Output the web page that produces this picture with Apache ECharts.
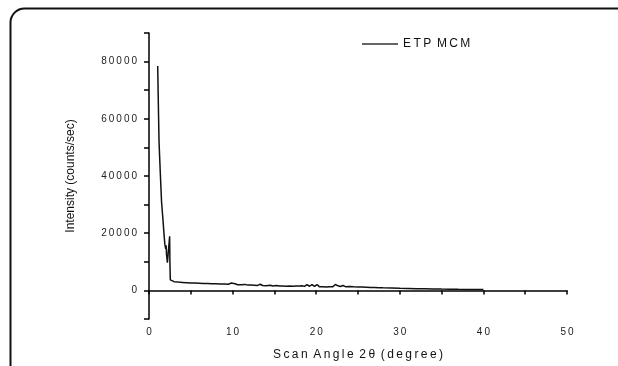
<!DOCTYPE html>
<html>
<head>
<meta charset="utf-8">
<script src="https://cdn.jsdelivr.net/npm/echarts@6/dist/echarts.min.js"></script>
<style>html,body{margin:0;padding:0;background:#fff}#c{width:618px;height:366px}</style>
</head>
<body>
<div id="c"></div>
<script>
const seriesName = 'ETP MCM';
const xTitle = 'Scan Angle 2θ (degree)';
const yTitle = 'Intensity (counts/sec)';
const angle = [1.04,1.10,1.20,1.36,1.50,1.67,1.80,1.90,1.96,2.00,2.05,2.10,2.20,2.35,2.42,2.47,2.50,2.55,2.70,3.0,3.5,4.0,4.5,5.0,5.5,6.0,6.5,7.0,7.5,8.0,8.5,9.0,9.5,9.8,10.0,10.3,10.6,11.0,11.5,11.8,12.2,12.6,13.0,13.3,13.6,14.0,14.5,14.8,15.2,15.6,16.0,16.4,16.8,17.2,17.4,17.6,17.8,18.0,18.3,18.6,18.9,19.2,19.5,19.8,20.1,20.4,20.8,21.2,21.6,22.0,22.3,22.6,22.9,23.2,23.5,24.0,24.5,25.0,25.5,26.0,26.5,27.0,27.5,28.0,29.0,30.0,31.0,32.0,33.0,34.0,35.0,36.0,37.0,38.0,39.0,40.0];
const intensity = [78500,68000,52000,40500,31000,24700,19500,16000,15500,14500,15800,12500,9700,9500,10000,18900,10000,3700,3300,3050,2900,2800,2700,2600,2550,2500,2450,2400,2350,2300,2250,2200,2150,2550,2150,2300,2000,1950,2100,1850,1850,1800,1750,2150,1700,1650,1800,1550,1700,1500,1550,1450,1500,1450,2100,1500,2050,1550,1650,1400,2000,1450,2050,1400,2050,1250,1300,1200,1250,1300,2050,1600,1350,1700,1300,1350,1250,1200,1150,1100,1000,1050,950,900,850,750,700,600,550,500,450,420,380,350,320,300];

const sp = s => String(s).split('').join('\u2009');
const FONT = 'Liberation Sans, Arial, sans-serif';
const chart = echarts.init(document.getElementById('c'), null, {renderer: 'canvas'});
chart.setOption({
  animation: false,
  backgroundColor: '#fff',
  graphic: [{
    type: 'rect', left: 8, top: 6, silent: true,
    shape: {x: 0, y: 0, width: 700, height: 420, r: 14},
    style: {fill: 'none', stroke: '#111', lineWidth: 2}
  }],
  grid: {left: 149, right: 51, top: 33, bottom: 47},
  legend: {
    left: 357, top: 33, icon: 'rect', itemWidth: 36, itemHeight: 1.5,
    textStyle: {fontFamily: FONT, fontSize: 12, color: '#111'},
    formatter: n => n.split(' ').map(sp).join(' \u2009'),
    data: [seriesName]
  },
  xAxis: {
    type: 'value', min: 0, max: 50, interval: 5,
    name: sp(xTitle).replace(/\u2009 \u2009/g, ' \u2009'), nameLocation: 'middle', nameGap: 30,
    nameTextStyle: {fontFamily: FONT, fontSize: 12, color: '#111'},
    axisLine: {lineStyle: {color: '#000', width: 1.5}},
    axisTick: {inside: false, length: 4, lineStyle: {color: '#000', width: 1.5}},
    axisLabel: {margin: 8, fontFamily: FONT, fontSize: 10, color: '#222',
      formatter: v => (v % 10 === 0 ? sp(v) : '')},
    splitLine: {show: false}
  },
  yAxis: {
    type: 'value', min: -10000, max: 90000, interval: 10000,
    name: yTitle, nameLocation: 'middle', nameGap: 72,
    nameTextStyle: {fontFamily: FONT, fontSize: 12, color: '#111'},
    axisLine: {onZero: false, lineStyle: {color: '#000', width: 1.5}},
    axisTick: {inside: false, length: 5, lineStyle: {color: '#000', width: 1.5}},
    axisLabel: {margin: 12, fontFamily: FONT, fontSize: 10, color: '#222',
      formatter: v => (v >= 0 && v <= 80000 && v % 20000 === 0 ? sp(v) : '')},
    splitLine: {show: false}
  },
  series: [{
    name: seriesName, type: 'line', symbol: 'none',
    lineStyle: {color: '#111', width: 1.5},
    itemStyle: {color: '#333'},
    data: angle.map((a, i) => [a, intensity[i]])
  }]
});
</script>
</body>
</html>
